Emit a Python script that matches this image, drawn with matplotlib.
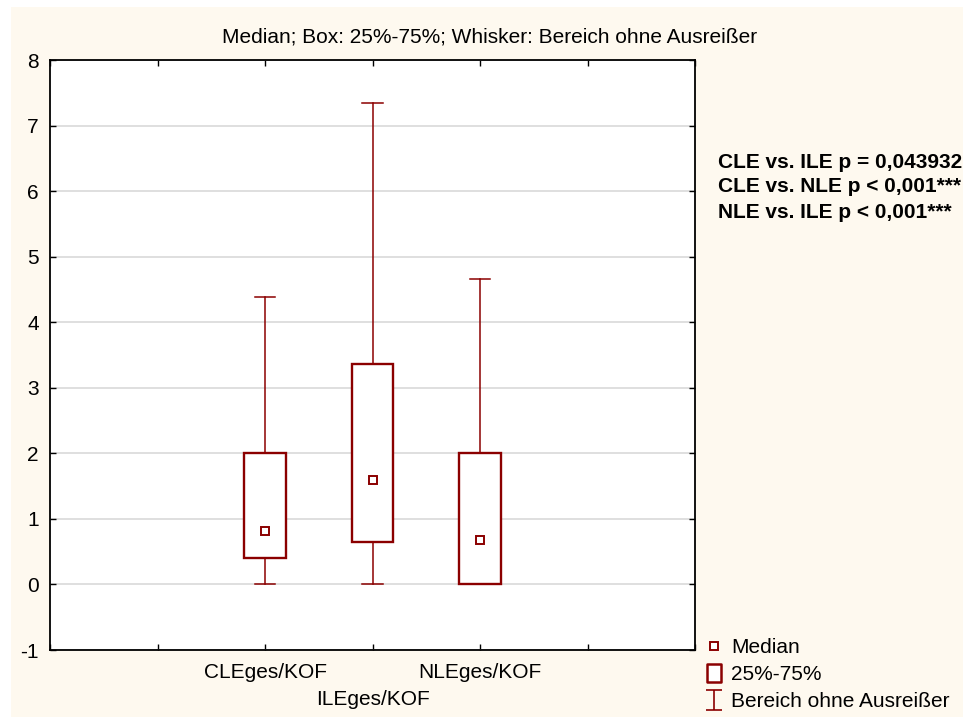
import matplotlib
matplotlib.use("Agg")
import matplotlib.pyplot as plt
from matplotlib.patches import Rectangle
from matplotlib.lines import Line2D
from matplotlib.path import Path

plt.rcParams['font.family'] = ['Liberation Sans', 'DejaVu Sans']
plt.rcParams['axes.unicode_minus'] = False

# ---- data ----
categories = ['CLEges/KOF', 'ILEges/KOF', 'NLEges/KOF']
positions = [2, 3, 4]
medians = [0.82, 1.60, 0.68]
q1 = [0.41, 0.64, 0.01]
q3 = [2.00, 3.37, 2.00]
whislo = [0.0, 0.0, 0.0]
whishi = [4.39, 7.35, 4.66]
yticks = [-1, 0, 1, 2, 3, 4, 5, 6, 7, 8]
title = 'Median; Box: 25%-75%; Whisker: Bereich ohne Ausreißer'
annot = ['CLE vs. ILE p = 0,043932', 'CLE vs. NLE p < 0,001***', 'NLE vs. ILE p < 0,001***']
legend_labels = ['Median', '25%-75%', 'Bereich ohne Ausreißer']

red = '#8B0000'
cream = '#FEF9EF'
FS = 15

fig = plt.figure(figsize=(9.63, 7.17), dpi=100)
fig.patch.set_facecolor('white')
fig.add_artist(Rectangle((11/963, 0), 1, 1 - 7/717, transform=fig.transFigure,
                         facecolor=cream, edgecolor='none', zorder=-10))

ax = fig.add_axes([50/963, 1 - 650/717, (695-50)/963, (650-60)/717])
ax.set_facecolor('white')

stats = []
for i in range(len(categories)):
    stats.append(dict(med=medians[i], q1=q1[i], q3=q3[i], whislo=whislo[i],
                      whishi=whishi[i], fliers=[], label=categories[i]))

ax.bxp(stats, positions=positions, widths=0.39, capwidths=0.195,
       showfliers=False, patch_artist=True,
       boxprops=dict(facecolor='white', edgecolor=red, linewidth=1.7),
       whiskerprops=dict(color=red, linewidth=1.1),
       capprops=dict(color=red, linewidth=1.1),
       medianprops=dict(linestyle='none'), zorder=3)
ax.plot(positions, medians, linestyle='none', marker='s', markersize=6,
        markerfacecolor='white', markeredgecolor=red, markeredgewidth=1.4, zorder=4)

ax.set_xlim(0, 6)
ax.set_ylim(-1, 8)
ax.set_yticks(yticks)
ax.set_yticklabels([str(v) for v in yticks])
ax.set_xticks(range(7))
xl = ['', ''] + [categories[0], '\n' + categories[1], categories[2]] + ['', '']
ax.set_xticklabels(xl, linespacing=1.55)
ax.tick_params(axis='both', direction='in', length=4, width=1.0, labelsize=FS,
               top=True, right=True, colors='black')
ax.tick_params(axis='x', pad=9)
ax.tick_params(axis='y', pad=8)
ax.yaxis.grid(True, color='#d9d9d9', linewidth=1.2, zorder=0)
ax.set_axisbelow(True)
for s in ax.spines.values():
    s.set_linewidth(1.3)
    s.set_color('black')

fig.text(490/963, 1 - 37/717, title, ha='center', va='center', fontsize=FS)

for i, t in enumerate(annot):
    fig.text(718/963, 1 - (162 + 25*i)/717, t, ha='left', va='center',
             fontsize=FS, fontweight='bold')

whisk_path = Path([(-0.8, 1), (0.8, 1), (0, 1), (0, -1), (-0.8, -1), (0.8, -1)],
                  [Path.MOVETO, Path.LINETO, Path.MOVETO, Path.LINETO, Path.MOVETO, Path.LINETO])
box_path = Path([(-0.8, -1), (0.8, -1), (0.8, 1), (-0.8, 1), (-0.8, -1)],
                [Path.MOVETO, Path.LINETO, Path.LINETO, Path.LINETO, Path.CLOSEPOLY])
handles = [
    Line2D([], [], linestyle='none', marker='s', markersize=6, markerfacecolor='white',
           markeredgecolor=red, markeredgewidth=1.4),
    Line2D([], [], linestyle='none', marker=box_path, markersize=13, markerfacecolor='white',
           markeredgecolor=red, markeredgewidth=1.8),
    Line2D([], [], linestyle='none', marker=whisk_path, markersize=15,
           markerfacecolor='none', markeredgecolor=red, markeredgewidth=1.2),
]
fig.legend(handles, legend_labels, loc='upper left', bbox_to_anchor=(704/963, 1 - 638/717),
           frameon=False, fontsize=FS, handlelength=1.0, handletextpad=0.3,
           labelspacing=0.38, borderpad=0, borderaxespad=0)

fig.savefig('out.png', dpi=100)
